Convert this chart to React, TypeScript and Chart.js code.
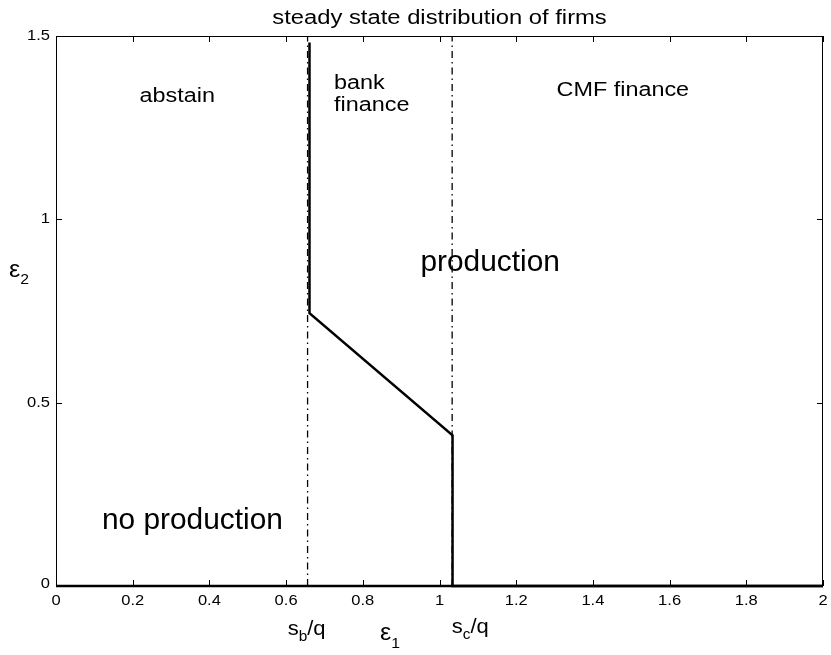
import React, { useEffect, useRef } from "react";
import { Chart, registerables } from "chart.js";

Chart.register(...registerables);

// ---- data ----
const xTickValues = [0, 0.2, 0.4, 0.6, 0.8, 1, 1.2, 1.4, 1.6, 1.8, 2];
const xTickLabels = ["0", "0.2", "0.4", "0.6", "0.8", "1", "1.2", "1.4", "1.6", "1.8", "2"];
const yTickValues = [0, 0.5, 1, 1.5];
const yTickLabels = ["0", "0.5", "1", "1.5"];

const sbq = 0.656; // s_b/q threshold
const scq = 1.033; // s_c/q threshold
const guideY = [0, 1.5];

const boundaryX = [0.661, 0.661, 1.034, 1.034, 2];
const boundaryY = [1.482, 0.744, 0.411, 0, 0];

const floorX = [0, 2];
const floorY = [0, 0];

const titleText = "steady state distribution of firms";

const FONT = '"Liberation Sans", Arial, Helvetica, sans-serif';

type Run = { text: string; size: number; dy?: number };

function drawText(
  ctx: CanvasRenderingContext2D,
  text: string,
  x: number,
  y: number,
  size: number,
  sx: number,
  align: "left" | "center" | "right",
  baseline: CanvasTextBaseline = "alphabetic"
) {
  ctx.save();
  ctx.font = `${size}px ${FONT}`;
  ctx.textBaseline = baseline;
  ctx.textAlign = "left";
  const w = ctx.measureText(text).width * sx;
  const x0 = align === "center" ? x - w / 2 : align === "right" ? x - w : x;
  ctx.translate(x0, y);
  ctx.scale(sx, 1);
  ctx.fillText(text, 0, 0);
  ctx.restore();
}

function drawRuns(ctx: CanvasRenderingContext2D, runs: Run[], x: number, y: number, sx: number) {
  let cx = x;
  for (const r of runs) {
    ctx.save();
    ctx.font = `${r.size}px ${FONT}`;
    ctx.textAlign = "left";
    ctx.textBaseline = "alphabetic";
    const w = ctx.measureText(r.text).width * sx;
    ctx.translate(cx, y + (r.dy || 0));
    ctx.scale(sx, 1);
    ctx.fillText(r.text, 0, 0);
    ctx.restore();
    cx += w;
  }
}

const overlayPlugin = {
  id: "overlay",
  afterDraw(chart: any) {
    const ctx: CanvasRenderingContext2D = chart.ctx;
    const { left, right, top, bottom } = chart.chartArea;
    const xs = chart.scales.x;
    const ys = chart.scales.y;
    const px = (v: number) => xs.getPixelForValue(v);
    const py = (v: number) => ys.getPixelForValue(v);

    ctx.save();
    ctx.fillStyle = "#000";
    ctx.strokeStyle = "#000";
    ctx.lineWidth = 1;

    // box
    ctx.strokeRect(left + 0.5, top + 0.5, right - left - 1, bottom - top - 1);

    // inward ticks
    const tl = 6;
    ctx.beginPath();
    xTickValues.forEach((v) => {
      const x = Math.round(px(v)) + 0.5;
      ctx.moveTo(x, bottom);
      ctx.lineTo(x, bottom - tl);
      ctx.moveTo(x, top);
      ctx.lineTo(x, top + tl);
    });
    yTickValues.forEach((v) => {
      const y = Math.round(py(v)) + 0.5;
      ctx.moveTo(left, y);
      ctx.lineTo(left + tl, y);
      ctx.moveTo(right, y);
      ctx.lineTo(right - tl, y);
    });
    ctx.stroke();

    // tick labels
    xTickValues.forEach((v, i) => {
      drawText(ctx, xTickLabels[i], px(v), bottom + 15, 14, 1.18, "center", "middle");
    });
    yTickValues.forEach((v, i) => {
      drawText(ctx, yTickLabels[i], left - 6, py(v) - (v === 0 ? 2 : 0), 14, 1.18, "right", "middle");
    });

    // title
    drawText(ctx, titleText, (left + right) / 2, 24, 19.5, 1.22, "center");

    // region labels
    drawText(ctx, "abstain", px(0.316), py(1.32), 20, 1.17, "center");
    drawText(ctx, "bank", px(0.725), py(1.356), 20, 1.17, "left");
    drawText(ctx, "finance", px(0.725), py(1.295), 20, 1.17, "left");
    drawText(ctx, "CMF finance", px(1.478), py(1.336), 20, 1.17, "center");
    drawText(ctx, "production", px(1.132), py(0.858), 29, 1.03, "center");
    drawText(ctx, "no production", px(0.3557), py(0.155), 29, 1.03, "center");

    // axis labels
    drawRuns(
      ctx,
      [
        { text: "s", size: 20 },
        { text: "b", size: 14, dy: 6 },
        { text: "/q", size: 20 },
      ],
      px(0.604),
      bottom + 49,
      1.1
    );
    drawRuns(
      ctx,
      [
        { text: "ε", size: 24 },
        { text: "1", size: 15, dy: 8 },
      ],
      px(0.845),
      bottom + 54,
      1.05
    );
    drawRuns(
      ctx,
      [
        { text: "s", size: 20 },
        { text: "c", size: 14, dy: 6 },
        { text: "/q", size: 20 },
      ],
      px(1.032),
      bottom + 47,
      1.1
    );
    drawRuns(
      ctx,
      [
        { text: "ε", size: 24 },
        { text: "2", size: 15, dy: 7 },
      ],
      9,
      py(0.843),
      1.05
    );

    ctx.restore();
  },
};

export default function App() {
  const ref = useRef<HTMLCanvasElement | null>(null);

  useEffect(() => {
    if (!ref.current) return;
    const pts = (xs: number[], ys: number[]) => xs.map((x, i) => ({ x, y: ys[i] }));
    const guideStyle = {
      showLine: true,
      borderColor: "#000",
      borderWidth: 1.3,
      borderDash: [7, 4, 1.5, 4],
      pointRadius: 0,
      clip: false,
    };
    const chart = new Chart(ref.current, {
      type: "scatter",
      data: {
        datasets: [
          { label: "s_b/q", data: pts([sbq, sbq], guideY), ...guideStyle } as any,
          { label: "s_c/q", data: pts([scq, scq], guideY), ...guideStyle } as any,
          {
            label: "floor",
            data: pts(floorX, floorY),
            showLine: true,
            borderColor: "#000",
            borderWidth: 2.5,
            pointRadius: 0,
            clip: false,
          } as any,
          {
            label: "boundary",
            data: pts(boundaryX, boundaryY),
            showLine: true,
            borderColor: "#000",
            borderWidth: 2.5,
            pointRadius: 0,
            tension: 0,
            clip: false,
          } as any,
        ],
      },
      options: {
        responsive: false,
        animation: false,
        layout: { padding: { left: 56, right: 8, top: 36, bottom: 69 } },
        scales: {
          x: { type: "linear", min: 0, max: 2, display: false },
          y: { type: "linear", min: 0, max: 1.5, display: false },
        },
        plugins: {
          legend: { display: false },
          tooltip: { enabled: false },
          title: { display: false },
        },
      },
      plugins: [overlayPlugin],
    });
    return () => chart.destroy();
  }, []);

  return (
    <div style={{ position: "fixed", left: 0, top: 0, width: 831, height: 655, background: "#fff" }}>
      <canvas ref={ref} width={831} height={655} />
    </div>
  );
}
